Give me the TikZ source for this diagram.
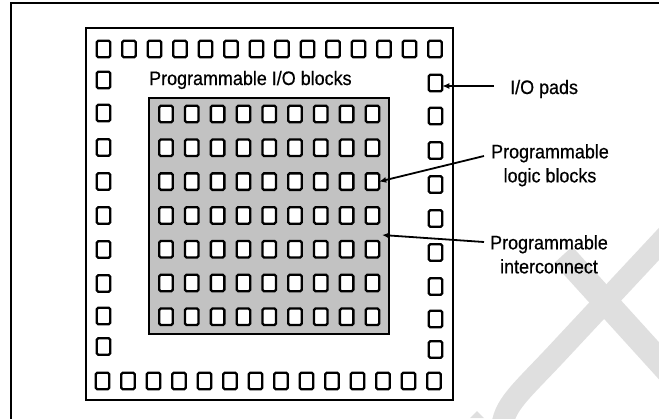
\documentclass[tikz,border=0pt]{standalone}
\usepackage{fontspec}
\setmainfont{Liberation Sans}
\newfontfamily\lblfont[FakeStretch=0.92,FakeBold=0.6]{Liberation Sans}
\usetikzlibrary{arrows.meta}
\definecolor{wm}{gray}{0.875}
\definecolor{coregray}{gray}{0.76}
\begin{document}
\begin{tikzpicture}[x=1pt,y=-1pt,
  pad/.style={draw=black, line width=2.3pt, fill=white, rounded corners=1.5pt,
    minimum width=13.5pt, minimum height=16.5pt, inner sep=0pt, outer sep=0pt},
  lbl/.style={font=\lblfont\fontsize{19.5}{24}\selectfont, text=black, inner sep=0pt},
  arr/.style={line width=1.8pt, -{Latex[length=7pt,width=6pt]}},
  frameline/.style={line width=2pt}]
\useasboundingbox (0,0) rectangle (659,418);
% watermark and page frame
\begin{scope}
  \clip (0,0) rectangle (659,418);
  \draw[wm, line width=25pt] (563,255) -- (700,406);
  \draw[wm, line width=22pt] (700,200) -- (560,350) .. controls (520,393) and (503,405) .. (502,430);
  \fill[wm] (470,418) -- (477,411) -- (484,418) -- cycle;
  \draw[frameline] (11,430) -- (11,3) -- (670,3);
\end{scope}
% chip outline
\node[draw, line width=2pt, minimum width=367pt, minimum height=372pt, inner sep=0pt,
  anchor=north west] (chip) at (85,27) {};
% logic core
\node[draw, line width=2.2pt, fill=coregray, minimum width=240pt, minimum height=236pt,
  inner sep=0pt, anchor=north west] (core) at (148,97) {};
% I/O pads
\foreach \i in {0,...,13} {
  \node[pad] (t\i) at ({103.5+25.5*\i},49) {};
  \node[pad] (b\i) at ({102.5+25.5*\i},381) {};
}
\foreach \y [count=\k] in {80,113,147.5,181.5,215.5,249.5,283.5,316,346.5} {
  \node[pad] (l\k) at (103.5,\y) {};
  \node[pad] (r\k) at (435.5,{\y+3}) {};
}
% logic blocks
\foreach \j in {0,...,8} {
  \foreach \k in {0,...,6} {
    \node[pad] (c\k-\j) at ({166+25.8*\j},{114+33.8*\k}) {};
  }
}
% labels
\node[lbl, anchor=base west] (iotitle) at (149,85) {Programmable I/O blocks};
\node[lbl, anchor=base west] (padlbl) at (510,94) {I/O pads};
\node[lbl, align=center, anchor=north] (logiclbl) at (550,144) {Programmable\\logic blocks};
\node[lbl, align=center, anchor=north] (intlbl) at (549,235) {Programmable\\interconnect};
% arrows
\coordinate (padsrc) at (494,86);
\coordinate (logicsrc) at (484,156);
\coordinate (icsrc) at (484,242);
\coordinate (ictip) at (382,235);
\draw[arr] (padsrc) -- (padsrc -| r1.east);
\draw[arr] (logicsrc) -- (c2-8.east);
\draw[arr] (icsrc) -- (ictip);
\end{tikzpicture}
\end{document}
